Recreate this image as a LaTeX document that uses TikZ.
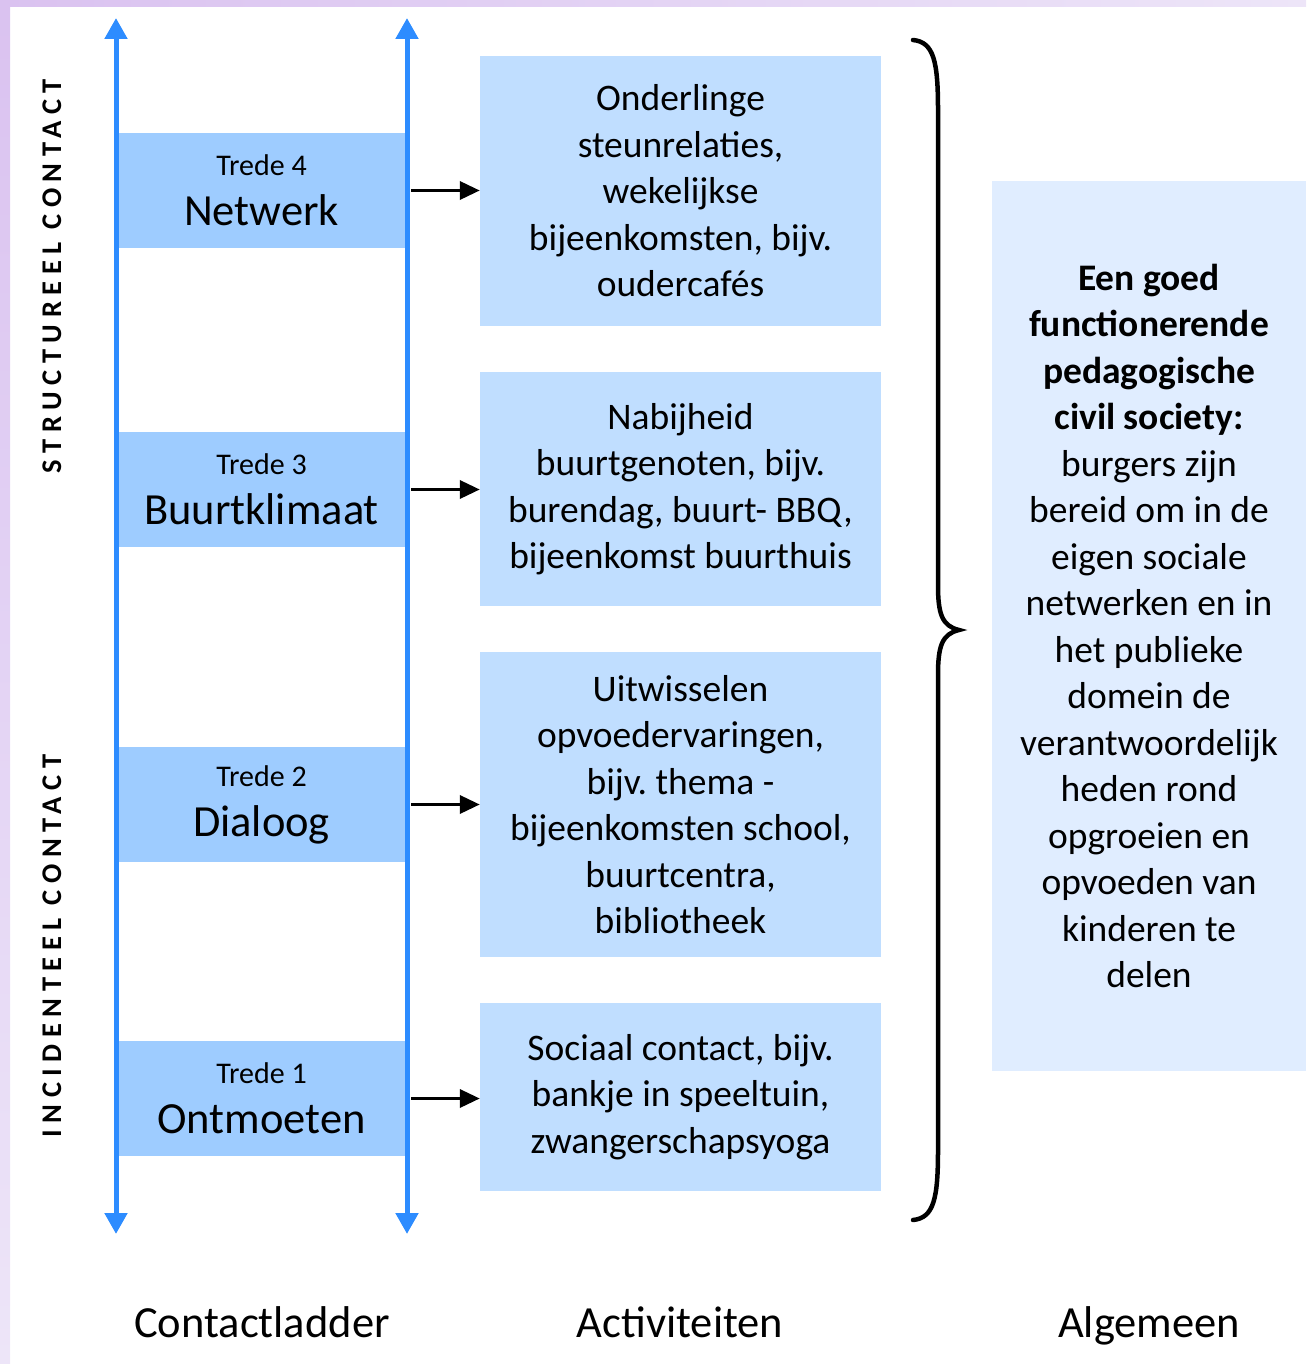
\documentclass[tikz,border=0pt]{standalone}
\usepackage{fontspec}
\setmainfont{Carlito}
\usetikzlibrary{arrows.meta, positioning}
\frenchspacing

\definecolor{railblue}{RGB}{45,140,255}
\definecolor{rungfill}{RGB}{158,204,255}
\definecolor{actfill}{RGB}{192,222,255}
\definecolor{genfill}{RGB}{224,237,255}
\definecolor{lavdark}{RGB}{218,194,240}
\definecolor{lavlight}{RGB}{237,229,248}

\newcommand{\actfont}{\fontsize{37.5}{46.5}\selectfont}
\newcommand{\labfont}{\fontsize{44.5}{50}\selectfont}
\newcommand{\tredefont}{\fontsize{30}{34}\selectfont}
\newcommand{\sidefont}{\fontsize{28.5}{30}\selectfont\bfseries\addfontfeature{LetterSpace=23}}

\tikzset{
    rung/.style={fill=rungfill, minimum width=291pt, minimum height=115pt,
        inner sep=0pt, align=center, font=\labfont},
    act/.style={fill=actfill, minimum width=401pt, inner sep=0pt,
        align=center, font=\actfont},
    rail/.style={draw=railblue, line width=5pt,
        {Triangle[length=21pt,width=22pt]}-{Triangle[length=21pt,width=22pt]}},
    link/.style={draw=black, line width=3.5pt, -{Triangle[length=20pt,width=18pt]},
        shorten <=4pt},
    side/.style={rotate=90, font=\sidefont, inner sep=0pt},
    colhead/.style={font=\labfont, anchor=base, inner sep=0pt},
}

\begin{document}
\begin{tikzpicture}[x=1pt, y=-1pt]
    \useasboundingbox (0,0) rectangle (1306,1364);
    % frame
    \shade[left color=lavdark, right color=lavlight] (0,0) rectangle (1306,7);
    \shade[top color=lavdark, bottom color=lavlight] (0,0) rectangle (10,1364);

    % side labels
    \node[side] (structureel) at (52,276) {STRUCTUREEL CONTACT};
    \node[side] (incidenteel) at (52,946) {INCIDENTEEL CONTACT};

    % ladder rungs
    \foreach \n/\name/\y in {4/Netwerk/190.5, 3/Buurtklimaat/489.5,
                             2/Dialoog/804.5, 1/Ontmoeten/1098.5}
        \node[rung] (trede\n) at (261.5,\y) {\tredefont Trede \n\\[0pt]\labfont\name};

    % rails
    \coordinate (railLtop) at (116,18);
    \coordinate (railLbot) at (116,1234);
    \coordinate (railRtop) at (407,18);
    \coordinate (railRbot) at (407,1234);
    \draw[rail] (railLtop) -- (railLbot);
    \draw[rail] (railRtop) -- (railRbot);

    % activities
    \node[act, minimum height=270pt] (act4) at (680.5,191) {Onderlinge\\ steunrelaties,\\ wekelijkse\\ bijeenkomsten, bijv.\\ oudercafés};
    \node[act, minimum height=234pt] (act3) at (680.5,489) {Nabijheid\\ buurtgenoten, bijv.\\ burendag, buurt- BBQ,\\ bijeenkomst buurthuis};
    \node[act, minimum height=305pt] (act2) at (680.5,804.5) {Uitwisselen\\ opvoedervaringen,\\ bijv. thema -\\ bijeenkomsten school,\\ buurtcentra,\\ bibliotheek};
    \node[act, minimum height=188pt] (act1) at (680.5,1097) {Sociaal contact, bijv.\\ bankje in speeltuin,\\ zwangerschapsyoga};

    % Transitions
    \foreach \n in {4,3,2,1}
        \draw[link] (trede\n.east) -- (trede\n.east -| act\n.west);

    % brace
    \coordinate (bracetop) at (913,40);
    \coordinate (bracetip) at (959,630);
    \coordinate (bracebot) at (913,1220);
    \draw[line width=4.5pt, line cap=round]
        (bracetop) .. controls (934,42) and (938,62) .. (938,110)
        -- (938,585) .. controls (938,614) and (942,626) .. (bracetip)
        .. controls (942,634) and (938,646) .. (938,675)
        -- (938,1150) .. controls (938,1198) and (934,1218) .. (bracebot);

    % general
    \node[fill=genfill, minimum width=314pt, minimum height=890pt, inner sep=0pt, align=center, font=\actfont] (gen) at (1149,626) {\textbf{Een goed}\\ \textbf{functionerende}\\ \textbf{pedagogische}\\ \textbf{civil society:}\\ burgers zijn\\ bereid om in de\\ eigen sociale\\ netwerken en in\\ het publieke\\ domein de\\ verantwoordelijk\\ heden rond\\ opgroeien en\\ opvoeden van\\ kinderen te\\ delen};

    % column heads
    \node[colhead] (ladder) at (262,1337) {Contactladder};
    \node[colhead] (activ) at (680,1337) {Activiteiten};
    \node[colhead] (algemeen) at (1149,1337) {Algemeen};
\end{tikzpicture}
\end{document}
